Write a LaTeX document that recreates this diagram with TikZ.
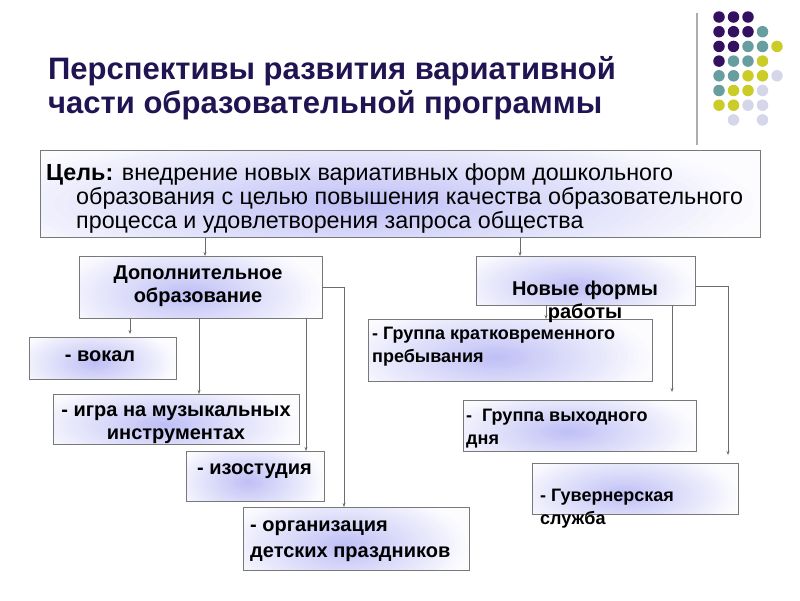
\documentclass[tikz,border=0pt]{standalone}
\usepackage{fontspec}
\setmainfont{Liberation Sans}
\usetikzlibrary{arrows.meta,calc}
\definecolor{titlec}{RGB}{32,20,82}
\definecolor{boxline}{RGB}{120,120,120}
\definecolor{lav}{RGB}{192,192,246}
\definecolor{dotA}{RGB}{52,16,96}
\definecolor{dotB}{RGB}{104,158,160}
\definecolor{dotC}{RGB}{204,204,40}
\definecolor{dotD}{RGB}{214,214,234}
\tikzset{
  box/.style={draw=boxline, line width=0.9pt, inner sep=0pt, outer sep=0pt, anchor=north west},
  conn/.style={draw=boxline!90!black, line width=0.8pt},
  arr/.style={conn, -{Stealth[length=4pt,width=3pt]}},
  btext/.style={font=\fontsize{20}{24}\selectfont\bfseries, anchor=base, inner sep=0pt},
  ltext/.style={font=\fontsize{18}{22}\selectfont\bfseries, anchor=base west, inner sep=0pt},
  gtext/.style={font=\fontsize{23.3}{24}\selectfont, anchor=base west, inner sep=0pt},
  ttext/.style={font=\fontsize{31}{34}\selectfont\bfseries, text=titlec, anchor=base west, inner sep=0pt},
  dot/.style={circle, inner sep=0pt, minimum size=11.5pt}
}
% name, x, y, w, h
\newcommand\gbox[5]{%
  \begin{scope}
    \clip (#2,#3) rectangle ++(#4,#5);
    \fill[lav!5!white] (#2,#3) rectangle ++(#4,#5);
    \foreach \gi in {0,...,29}{
      \pgfmathsetmacro\gtt{1-\gi/30}
      \pgfmathsetmacro\gpp{5+95*(\gi/29)}
      \pgfmathsetmacro\grx{0.56*#4*\gtt}
      \pgfmathsetmacro\gry{0.9*#5*\gtt}
      \fill[lav!\gpp!white] ($(#2,#3)+(0.45*#4,0.62*#5)$) ellipse [x radius=\grx pt, y radius=\gry pt];
    }
  \end{scope}
  \node[box, minimum width=#4pt, minimum height=#5pt] (#1) at (#2,#3) {};
}
\begin{document}
\begin{tikzpicture}[x=1pt,y=-1pt]
\useasboundingbox (0,0) rectangle (800,600);
\fill[white] (0,0) rectangle (800,600);
% decoration
\draw[draw=gray!65, line width=1.3pt] (697,13) coordinate (vl1) -- (697,145) coordinate (vl2);
\foreach \r/\row in {0/{A,A,A,N,N},1/{A,A,A,B,N},2/{A,A,B,B,C},3/{A,B,B,C,N},4/{B,B,C,C,D},5/{B,C,C,D,N},6/{C,C,D,D,N},7/{N,D,N,D,N}}{
  \foreach \c [count=\k from 0] in \row {
    \if\c N\else
      \node[dot, fill=dot\c] (d\r-\k) at (719+14.5*\k, 17+14.7*\r) {};
    \fi
  }
}
% title
\node[ttext] (t1) at (48,79) {Перспективы развития вариативной};
\node[ttext] (t2) at (48,113) {части образовательной программы};
% goal
\gbox{goal}{40}{150}{720}{87}
\node[gtext] (g1) at (46,180) {\textbf{Цель:} внедрение новых вариативных форм дошкольного};
\node[gtext] (g2) at (76,204) {образования с целью повышения качества образовательного};
\node[gtext] (g3) at (76,228) {процесса и удовлетворения запроса общества};
% boxes
\gbox{dop}{79}{256}{243}{62}
\gbox{vok}{29}{337}{147}{42}
\gbox{igr}{53}{394}{246}{50}
\gbox{izo}{186}{451}{138}{50}
\gbox{org}{243}{507}{226}{63}
\gbox{nov}{476}{256}{219}{49}
\gbox{kra}{368}{319}{284}{62}
\gbox{vyh}{463}{400}{233}{51}
\gbox{guv}{532}{463}{206}{51}
% texts
\node[btext] (dopt1) at (198,279) {Дополнительное};
\node[btext] (dopt2) at (198,302) {образование};
\node[btext] (vokt) at (100,361) {- вокал};
\node[btext] (igrt1) at (176,416) {- игра на музыкальных};
\node[btext] (igrt2) at (176,439) {инструментах};
\node[btext, anchor=base west] (izot) at (197,474) {- изостудия};
\node[btext, anchor=base west] (orgt1) at (250,531) {- организация};
\node[btext, anchor=base west] (orgt2) at (250,557) {детских праздников};
\node[btext] (novt1) at (585,295) {Новые формы};
\node[btext] (novt2) at (585,318) {работы};
\node[ltext] (krat1) at (372,339) {- Группа кратковременного};
\node[ltext] (krat2) at (372,362) {пребывания};
\node[ltext] (vyht1) at (466,421) {-\ \ Группа выходного};
\node[ltext] (vyht2) at (466,444) {дня};
\node[ltext] (guvt1) at (540,501) {- Гувернерская};
\node[ltext] (guvt2) at (540,524) {служба};
% connector x positions
\coordinate (xa) at (205,0);
\coordinate (xb) at (520,0);
\coordinate (xc) at (130,0);
\coordinate (xd) at (199,0);
\coordinate (xe) at (306,0);
\coordinate (xf) at (344,0);
\coordinate (xg) at (546,0);
\coordinate (xh) at (672,0);
\coordinate (xi) at (728,0);
% connectors
\draw[arr] (goal.south -| xa) -- (dop.north -| xa);
\draw[arr] (goal.south -| xb) -- (nov.north -| xb);
\draw[arr, shorten >=3pt] (dop.south -| xc) -- (vok.north -| xc);
\draw[arr] (dop.south -| xd) -- (igr.north -| xd);
\draw[arr] (dop.south -| xe) -- (izo.north -| xe);
\draw[arr] (dop.east) -| (org.north -| xf);
\draw[arr] (nov.south -| xg) -- (kra.north -| xg);
\draw[arr, shorten >=8pt] (nov.south -| xh) -- (vyh.north -| xh);
\coordinate (nove) at ($(nov.east)+(0,6)$);
\draw[arr, shorten >=8pt] (nove) -| (guv.north -| xi);
\end{tikzpicture}
\end{document}
